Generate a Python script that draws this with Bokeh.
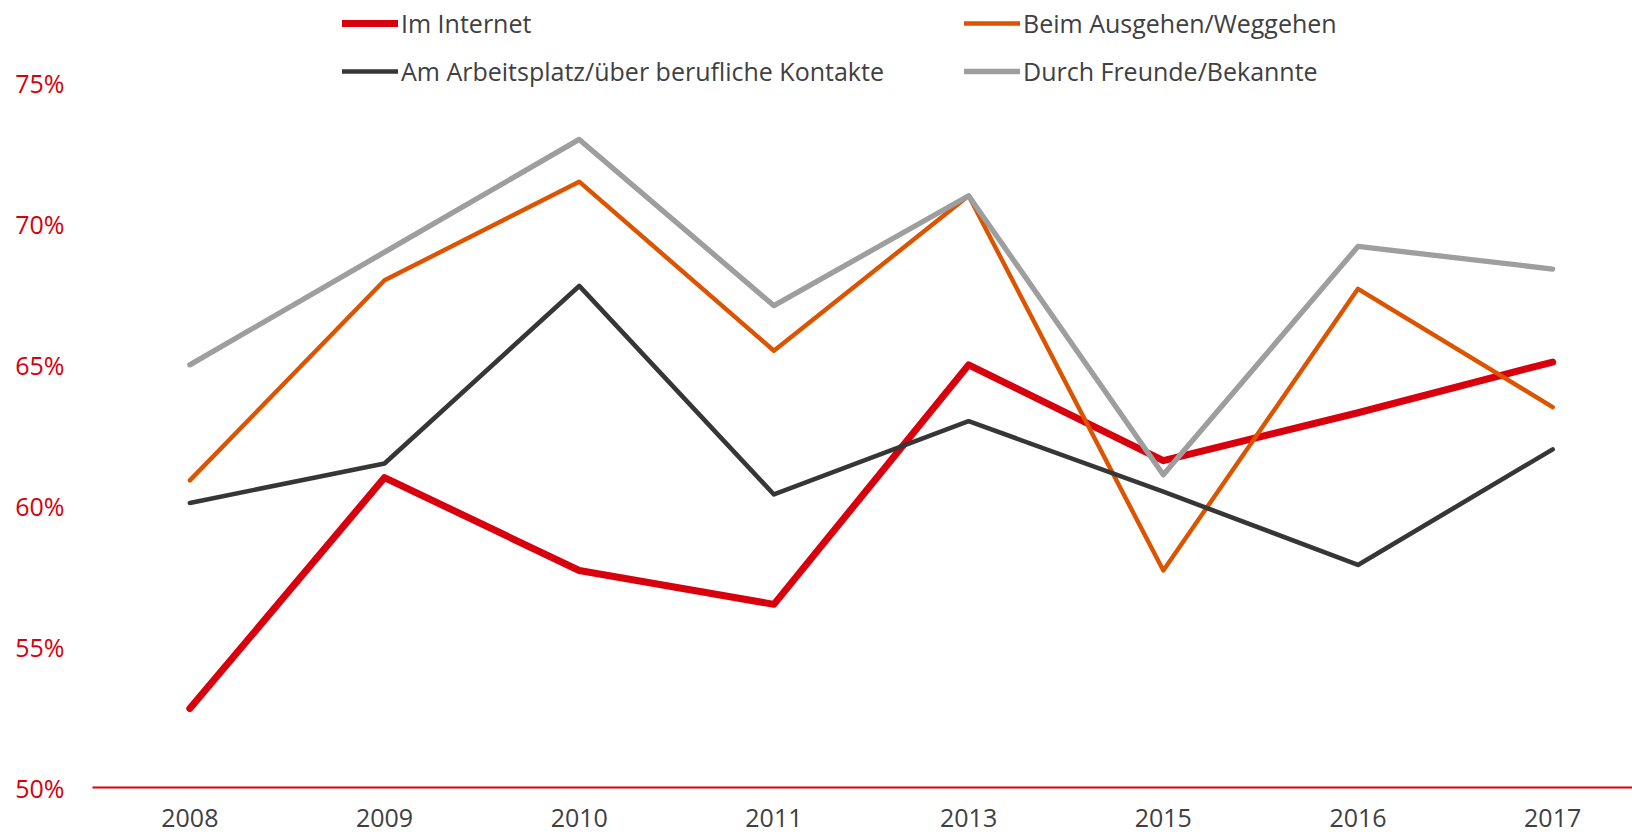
from bokeh.plotting import figure
from bokeh.models import Range1d, FixedTicker, PrintfTickFormatter, Legend, LegendItem
from bokeh.embed import file_html
from bokeh.resources import INLINE

years = ["2008", "2009", "2010", "2011", "2013", "2015", "2016", "2017"]
im_internet = [52.8, 61.0, 57.7, 56.5, 65.0, 61.6, 63.3, 65.1]
ausgehen = [60.9, 68.0, 71.5, 65.5, 71.0, 57.7, 67.7, 63.5]
arbeitsplatz = [60.1, 61.5, 67.8, 60.4, 63.0, 60.5, 57.9, 62.0]
freunde = [65.0, 69.0, 73.0, 67.1, 71.0, 61.1, 69.2, 68.4]
y_ticks = [50, 55, 60, 65, 70, 75]

names = ["Im Internet", "Beim Ausgehen/Weggehen",
         "Am Arbeitsplatz/über berufliche Kontakte", "Durch Freunde/Bekannte"]

RED = "#D7000C"
ORANGE = "#DC5300"
DARK = "#363636"
GRAY = "#9E9E9E"
FONT = "Open Sans"

xs = list(range(len(years)))

p = figure(width=1632, height=838, output_backend="svg", toolbar_location=None,
           x_range=Range1d(-0.5, 7.41), y_range=Range1d(50, 77.93),
           min_border_left=92, min_border_right=0, min_border_top=0,
           min_border_bottom=51)
p.outline_line_color = None
p.xgrid.visible = False
p.ygrid.visible = False
p.background_fill_color = "white"
p.border_fill_color = "white"

r_int = p.line(xs, im_internet, line_color=RED, line_width=7, line_join="round", line_cap="round")
r_aus = p.line(xs, ausgehen, line_color=ORANGE, line_width=4.4, line_join="round", line_cap="round")
r_arb = p.line(xs, arbeitsplatz, line_color=DARK, line_width=4.6, line_join="round", line_cap="round")
r_fre = p.line(xs, freunde, line_color=GRAY, line_width=5.3, line_join="round", line_cap="round")

# axes
p.xaxis.ticker = FixedTicker(ticks=xs)
p.xaxis.major_label_overrides = {i: y for i, y in zip(xs, years)}
p.xaxis.axis_line_color = RED
p.xaxis.axis_line_width = 2
p.xaxis.major_tick_line_color = None
p.xaxis.major_tick_out = 0
p.xaxis.major_tick_in = 0
p.xaxis.minor_tick_line_color = None
p.xaxis.minor_tick_out = 0
p.xaxis.major_label_standoff = 21
p.xaxis.major_label_text_line_height = 0.8
p.xaxis.major_label_text_font = FONT
p.xaxis.major_label_text_font_size = "25px"
p.xaxis.major_label_text_color = "#404040"

p.yaxis.ticker = FixedTicker(ticks=y_ticks)
p.yaxis.formatter = PrintfTickFormatter(format="%d%%")
p.yaxis.axis_line_color = None
p.yaxis.major_tick_line_color = None
p.yaxis.major_tick_out = 0
p.yaxis.major_tick_in = 0
p.yaxis.minor_tick_line_color = None
p.yaxis.minor_tick_out = 0
p.yaxis.major_label_standoff = 28
p.yaxis.major_label_text_font = FONT
p.yaxis.major_label_text_font_size = "25px"
p.yaxis.major_label_text_color = RED


def make_legend(items, loc):
    lg = Legend(items=items, location=loc, orientation="vertical",
                padding=0, margin=0, spacing=14,
                glyph_width=56, glyph_height=34, label_height=34,
                label_standoff=3,
                label_text_font=FONT, label_text_font_size="25px",
                label_text_color="#404040",
                border_line_color=None, background_fill_alpha=0)
    return lg


leg1 = make_legend([LegendItem(label=names[0], renderers=[r_int]),
                    LegendItem(label=names[2], renderers=[r_arb])], (250, 699))
leg2 = make_legend([LegendItem(label=names[1], renderers=[r_aus]),
                    LegendItem(label=names[3], renderers=[r_fre])], (872, 699))
p.add_layout(leg1, "center")
p.add_layout(leg2, "center")

open("out.html", "w").write(file_html(p, INLINE))
